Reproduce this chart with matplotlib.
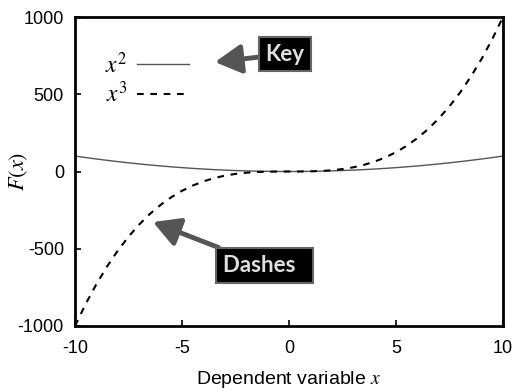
import matplotlib
matplotlib.use("Agg")
import matplotlib.pyplot as plt

plt.rcParams['font.family'] = 'sans-serif'
plt.rcParams['font.sans-serif'] = ['Liberation Sans', 'Arimo', 'DejaVu Sans']
plt.rcParams['mathtext.fontset'] = 'stix'
plt.rcParams['axes.unicode_minus'] = False

x_vals = [-10, -9.5, -9, -8.5, -8, -7.5, -7, -6.5, -6, -5.5, -5, -4.5, -4, -3.5, -3, -2.5, -2, -1.5, -1, -0.5,
          0, 0.5, 1, 1.5, 2, 2.5, 3, 3.5, 4, 4.5, 5, 5.5, 6, 6.5, 7, 7.5, 8, 8.5, 9, 9.5, 10]
sq_vals = [100, 90.25, 81, 72.25, 64, 56.25, 49, 42.25, 36, 30.25, 25, 20.25, 16, 12.25, 9, 6.25, 4, 2.25, 1, 0.25,
           0, 0.25, 1, 2.25, 4, 6.25, 9, 12.25, 16, 20.25, 25, 30.25, 36, 42.25, 49, 56.25, 64, 72.25, 81, 90.25, 100]
cube_vals = [-1000, -857.375, -729, -614.125, -512, -421.875, -343, -274.625, -216, -166.375, -125, -91.125, -64,
             -42.875, -27, -15.625, -8, -3.375, -1, -0.125,
             0, 0.125, 1, 3.375, 8, 15.625, 27, 42.875, 64, 91.125, 125, 166.375, 216, 274.625, 343, 421.875, 512,
             614.125, 729, 857.375, 1000]
x_ticks = [-10, -5, 0, 5, 10]
y_ticks = [-1000, -500, 0, 500, 1000]

fig = plt.figure(figsize=(5.19, 3.92), dpi=100)
ax = fig.add_axes([75/519, 1-326/392, (503-75)/519, (326-17)/392])

ax.plot(x_vals, sq_vals, color='#555555', lw=1.0, label='$x^2$')
ax.plot(x_vals, cube_vals, color='black', lw=1.5, dashes=(3.2, 3.2), label='$x^3$')

ax.set_xlim(-10, 10)
ax.set_ylim(-1000, 1000)
ax.set_xticks(x_ticks)
ax.set_yticks(y_ticks)
ax.tick_params(direction='in', length=4, width=1.2, labelsize=13, pad=8)
ax.tick_params(axis='x', pad=10)
for s in ax.spines.values():
    s.set_linewidth(2)

ax.set_xlabel('Dependent variable $x$', fontsize=14, labelpad=9)
ax.set_ylabel('$F(x)$', fontsize=16)
ax.yaxis.set_label_coords(-0.105, 0.5)

leg = ax.legend(loc='upper left', bbox_to_anchor=(0.021, 0.955), frameon=False, markerfirst=False,
                fontsize=17, handlelength=2.2, handletextpad=0.4, labelspacing=0.15)

bbox_style = dict(boxstyle='square,pad=0.3', fc='black', ec='#666666', lw=1.5)
arrow_style = dict(arrowstyle='-|>,head_length=1.0,head_width=0.55', color='#555555', lw=3.5,
                   shrinkA=0, shrinkB=0)
ax.annotate('Key', xy=(-3.46, 708), xytext=(-0.19, 760), textcoords='data',
            fontsize=16, fontweight='bold', family='Lato', color='#e0e0e0',
            ha='center', va='center', bbox=bbox_style, arrowprops=arrow_style)
ax.annotate('Dashes  ', xy=(-6.36, -327), xytext=(-3.08, -608), textcoords='data',
            fontsize=16, fontweight='bold', family='Lato', color='#e0e0e0',
            ha='left', va='center', bbox=bbox_style, arrowprops=arrow_style)

fig.savefig('out.png', dpi=100)
